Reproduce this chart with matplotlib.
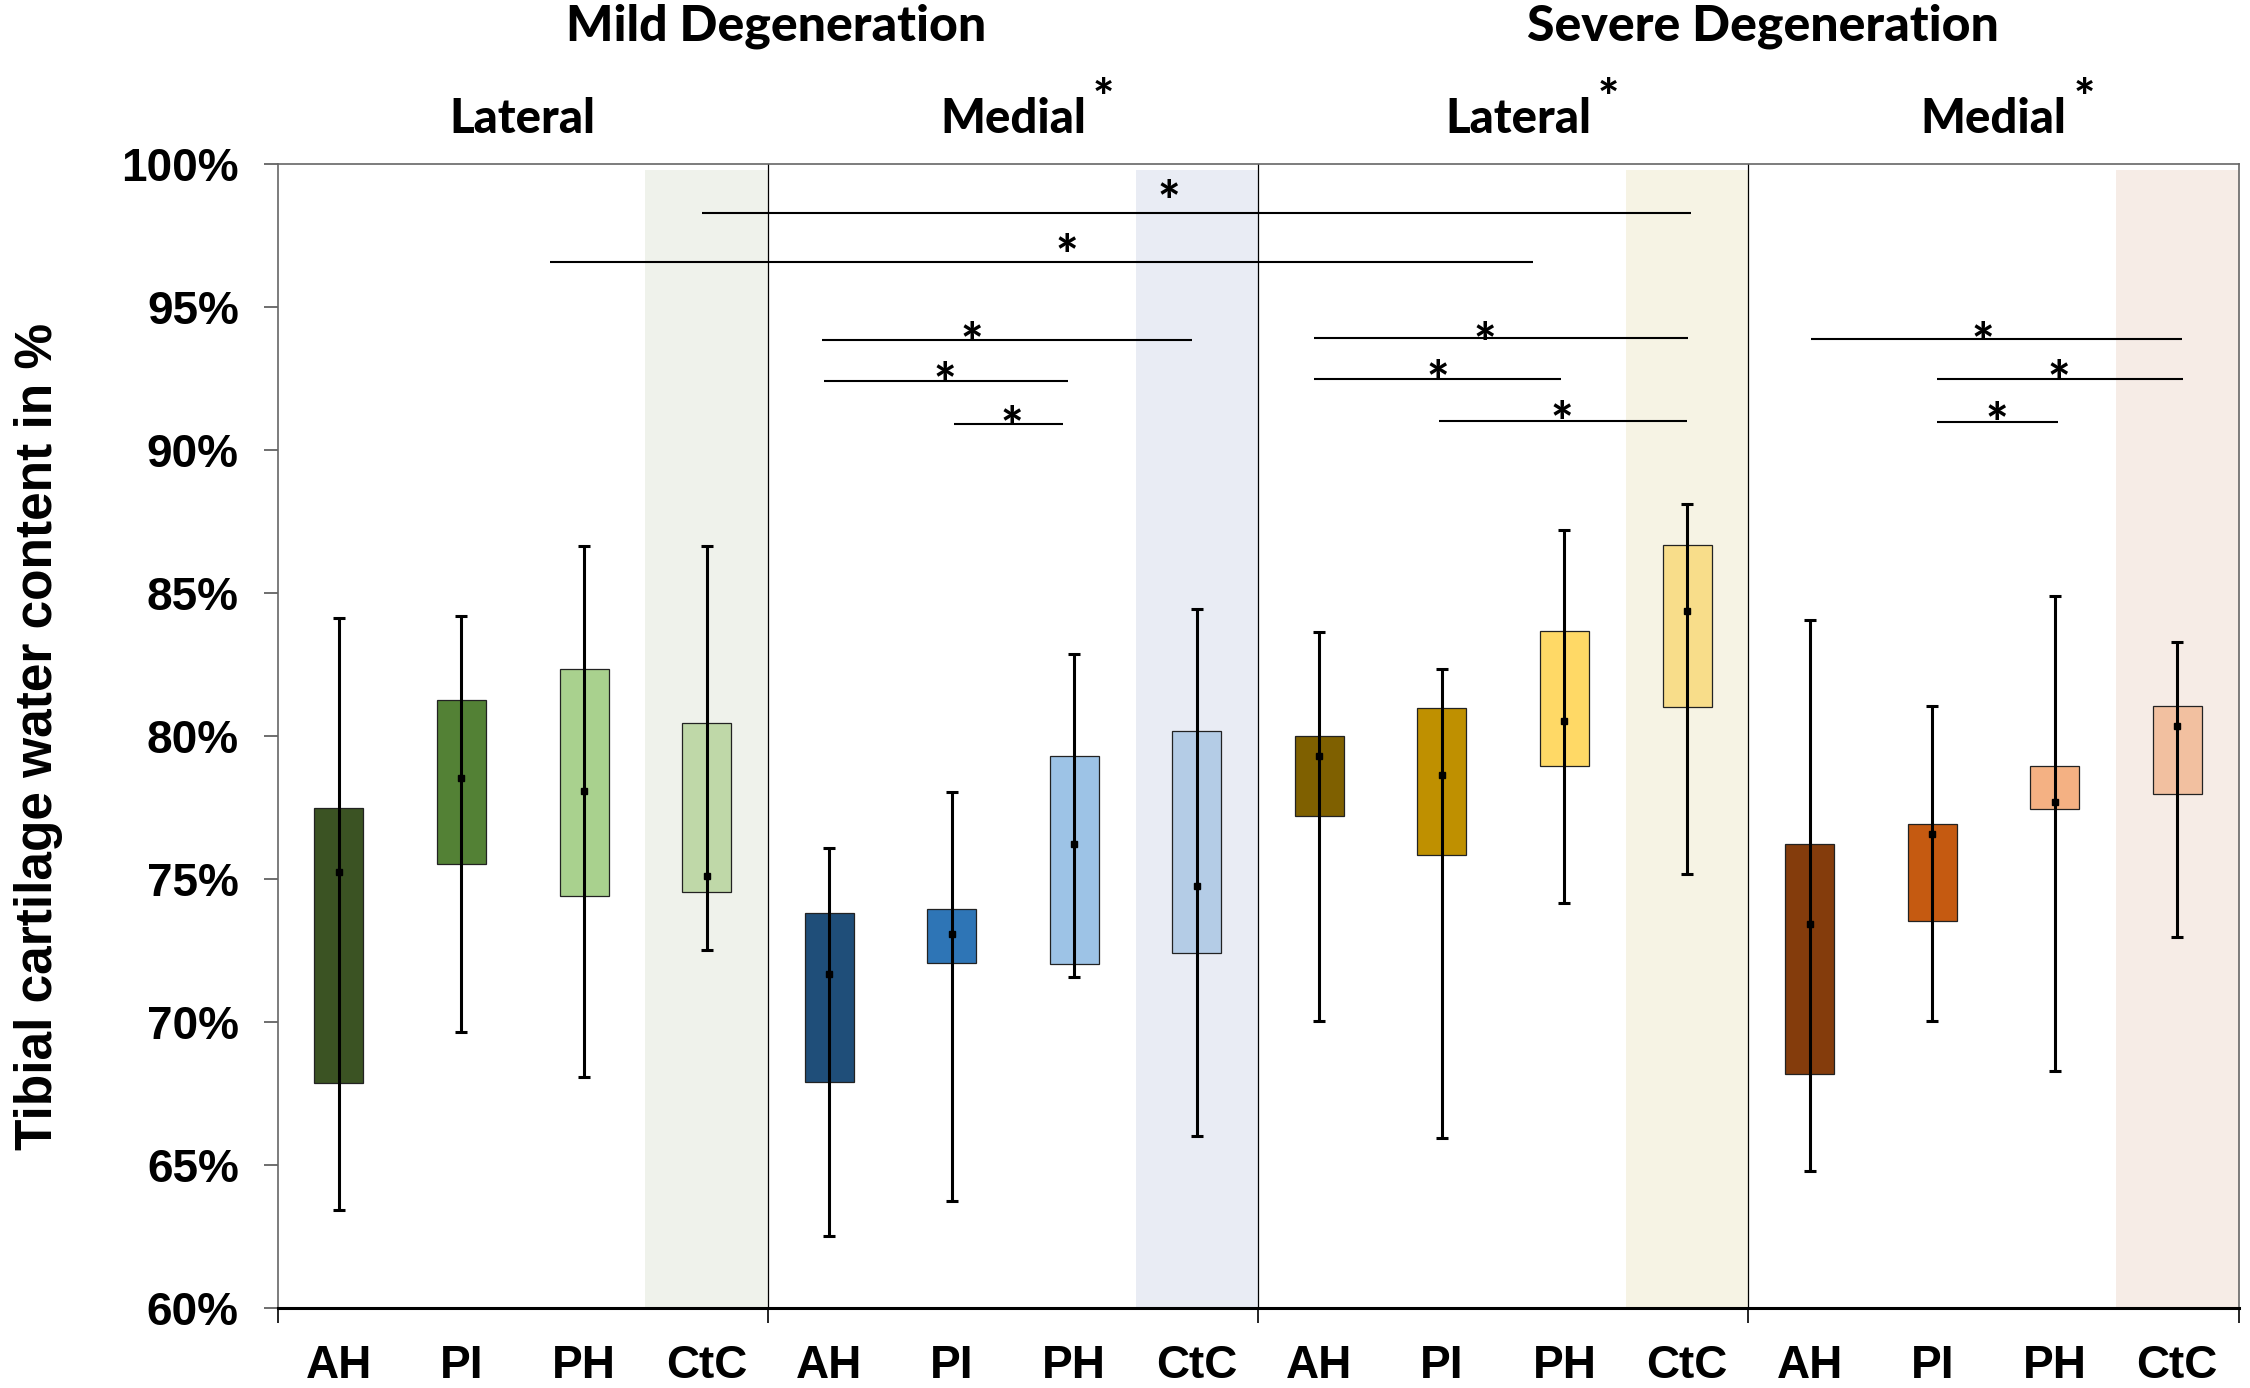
import numpy as np
import matplotlib
matplotlib.use("Agg")
import matplotlib.pyplot as plt
import matplotlib.transforms as mtransforms

# --- data ---
categories = ["AH", "PI", "PH", "CtC"] * 4
groups = ["Lateral", "Medial", "Lateral", "Medial"]
group_star = [False, True, True, True]
levels = ["Mild Degeneration", "Severe Degeneration"]

means = [75.26, 78.54, 78.08, 75.10, 71.69, 73.07, 76.24, 74.74,
         79.29, 78.63, 80.52, 84.36, 73.42, 76.58, 77.69, 80.36]
box_hi = [77.47, 81.27, 82.34, 80.45, 73.82, 73.94, 79.31, 80.18,
          80.00, 80.99, 83.66, 86.69, 76.24, 76.92, 78.94, 81.06]
box_lo = [67.88, 75.51, 74.42, 74.56, 67.90, 72.07, 72.03, 72.42,
          77.20, 75.83, 78.94, 81.00, 68.20, 73.53, 77.44, 77.99]
whisk_hi = [84.13, 84.20, 86.66, 86.66, 76.08, 78.04, 82.86, 84.43,
            83.63, 82.36, 87.19, 88.12, 84.07, 81.04, 84.91, 83.29]
whisk_lo = [63.42, 69.64, 68.09, 72.51, 62.52, 63.74, 71.57, 66.02,
            70.02, 65.95, 74.17, 75.19, 64.79, 70.02, 68.29, 72.96]

# significance brackets (category index units, % units)
sig_x0 = [2.96, 1.72, 3.94, 3.96, 5.02, 7.96, 7.96, 8.98, 12.01, 13.04, 13.04]
sig_x1 = [11.03, 9.74, 6.96, 5.95, 5.91, 11.01, 9.97, 11.00, 15.04, 15.05, 14.03]
sig_y = [98.28, 96.57, 93.84, 92.40, 90.91, 93.92, 92.48, 91.02, 93.88, 92.50, 90.98]
star_x = [6.77, 5.94, 5.16, 4.94, 5.49, 9.35, 8.97, 9.98, 13.41, 14.03, 13.53]
star_y = [99.15, 97.27, 94.20, 92.80, 91.25, 94.20, 92.88, 91.45, 94.20, 92.88, 91.40]

# --- styling ---
bar_colors = ["#3B5323", "#538135", "#A9D18E", "#BFD8A8",
              "#1F4E79", "#2E75B6", "#9DC3E6", "#B4CCE6",
              "#7F6000", "#BF9000", "#FFD966", "#F8DD8A",
              "#843C0C", "#C55A11", "#F4B183", "#F2C0A0"]
shade_colors = ["#EFF2EB", "#E9ECF4", "#F6F3E4", "#F6ECE6"]

TICK_FONT = "Liberation Sans"
HEAD_FONT = "Lato"

fig = plt.figure(figsize=(22.5, 13.88), dpi=100)
ax = fig.add_axes([0.1234, 0.0576, 0.8715, 0.8242])

x = np.arange(len(categories))

# shaded CtC columns
for g in range(4):
    c = g * 4 + 3
    ax.axvspan(c - 0.5, c + 0.5, ymin=0, ymax=0.995, color=shade_colors[g], lw=0, zorder=0)

# group separators
for b in [3.5, 7.5, 11.5]:
    ax.axvline(b, color="black", lw=0.9, zorder=1)

bottoms = np.array(box_lo)
heights = np.array(box_hi) - bottoms
ax.bar(x, heights, bottom=bottoms, width=0.4, color=bar_colors,
       edgecolor="#222222", linewidth=0.9, zorder=2)

m = np.array(means)
yerr = [m - np.array(whisk_lo), np.array(whisk_hi) - m]
ax.errorbar(x, m, yerr=yerr, fmt="s", color="black", ms=5,
            elinewidth=2.2, capsize=4.5, capthick=2.2, zorder=3)

# significance lines and stars
star_tr = mtransforms.offset_copy(ax.transData, fig=fig, x=0, y=-23, units="points")
for x0, x1, y in zip(sig_x0, sig_x1, sig_y):
    ax.plot([x0, x1], [y, y], color="black", lw=1.5, zorder=4, solid_capstyle="butt")
for sx, sy in zip(star_x, star_y):
    ax.text(sx, sy, "*", transform=star_tr, ha="center", va="baseline",
            fontsize=38, fontweight="black", family=HEAD_FONT, zorder=5)

ax.set_xlim(-0.5, 15.5)
ax.set_ylim(60, 100)

# y axis
yt = np.arange(60, 101, 5)
ax.set_yticks(yt)
ax.set_yticklabels([f"{v}%" for v in yt], fontsize=33, fontweight="bold", family=TICK_FONT)
ax.tick_params(axis="y", direction="out", length=10, width=1.2, color="#555555", pad=18)

# x axis: labels at categories, tick marks at group boundaries
ax.set_xticks(x)
ax.set_xticklabels(categories, fontsize=33, fontweight="bold", family=TICK_FONT)
ax.tick_params(axis="x", which="major", length=0, pad=26)
ax.set_xticks([-0.5, 3.5, 7.5, 11.5, 15.5], minor=True)
ax.tick_params(axis="x", which="minor", direction="out", length=11, width=1.2, color="black")

ax.set_ylabel("Tibial cartilage water content in %", fontsize=37, fontweight="bold",
              family=TICK_FONT, labelpad=42)

for side in ["top", "right", "left"]:
    ax.spines[side].set_color("#666666")
    ax.spines[side].set_linewidth(1.2)
ax.spines["bottom"].set_color("black")
ax.spines["bottom"].set_linewidth(2.2)

# group headers
tr = mtransforms.blended_transform_factory(ax.transData, fig.transFigure)
header_x = [1.5, 5.5, 9.62, 13.5]
for g, name in enumerate(groups):
    t = ax.text(header_x[g], 0.914, name, transform=tr, ha="center", va="center",
                fontsize=34, fontweight="black", family=HEAD_FONT)
    if group_star[g]:
        ax.annotate("*", xy=(1, 1), xycoords=t, xytext=(5, -2), textcoords="offset points",
                    ha="left", va="center", fontsize=36, fontweight="black", family=HEAD_FONT)

level_x = [3.57, 11.62]
for k, name in enumerate(levels):
    ax.text(level_x[k], 0.981, name, transform=tr, ha="center", va="center",
            fontsize=36, fontweight="black", family=HEAD_FONT)

fig.savefig("out.png", dpi=100)
